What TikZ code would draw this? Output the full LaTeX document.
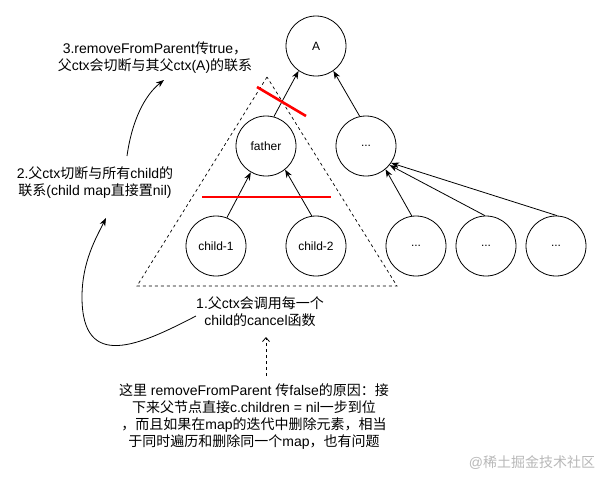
\documentclass[tikz,border=0pt]{standalone}
\usepackage{fontspec}
\setmainfont{Liberation Sans}
\newfontfamily\cjk{Noto Sans CJK SC}
\newcommand\zh[1]{{\cjk #1}}
\usetikzlibrary{arrows.meta}
\begin{document}
\begin{tikzpicture}[x=1pt,y=-1pt,
 circ/.style={circle,draw,line width=0.8pt,minimum size=60pt,inner sep=0pt,font=\fontsize{12}{14}\selectfont},
 arr/.style={line width=0.8pt,-{Stealth[length=8pt,width=6pt,inset=2.5pt]}},
 note/.style={align=center,font=\fontsize{14}{17}\selectfont,inner sep=0pt},
 cut/.style={red,line width=2.6pt},
 tri/.style={dash pattern=on 3pt off 3pt,line width=0.7pt},
 hint/.style={line width=0.8pt,dash pattern=on 3pt off 3pt,-{Straight Barb[length=4pt,width=7pt]}}
]
\useasboundingbox (0,0) rectangle (603,483);
% nodes
\node[circ] (A)  at (316,46)  {A};
\node[circ] (fa) at (266,146) {father};
\node[circ] (d0) at (366,146) {...};
\node[circ] (c1) at (216,246) {child-1};
\node[circ] (c2) at (316,246) {child-2};
\node[circ] (d1) at (416,246) {...};
\node[circ] (d2) at (486,246) {...};
\node[circ] (d3) at (556,246) {...};
% edges
\draw[arr] (fa.75) -- (A.235);
\draw[arr] (d0.102) -- (A.305);
\draw[arr] (c1.69) -- (fa.240);
\draw[arr] (c2.98) -- (fa.309);
\draw[arr] (d1.98) -- (d0.310);
\draw[arr] (d2.92) -- (d0.321);
\draw[arr] (d3.88) -- (d0.326);
% dashed triangle
\draw[tri] (267,77) -- (137,286) -- (397,286) -- cycle;
% red cuts
\draw[cut] (257,87) -- (306,116);
\draw[cut] (202,197) -- (331,197);
% notes
\node[note] (n3) at (155,57.5) {3.removeFromParent\zh{传}true\zh{，}\\\zh{父}ctx\zh{会切断与其父}ctx(A)\zh{的联系}};
\node[note] (n2) at (95,183) {2.\zh{父}ctx\zh{切断与所有}child\zh{的}\\\zh{联系}(child map\zh{直接置}nil)};
\node[note] (n1) at (260,311.5) {1.\zh{父}ctx\zh{会调用每一个}\\child\zh{的}cancel\zh{函数}};
\node[note] (n0) at (254,417) {\zh{这里} removeFromParent \zh{传}false\zh{的原因：接}\\\zh{下来父节点直接}c.children = nil\zh{一步到位}\\\zh{，而且如果在}map\zh{的迭代中删除元素，相当}\\\zh{于同时遍历和删除同一个}map\zh{，也有问题}};
\node[font=\fontsize{14}{17}\selectfont,text=black!28,inner sep=0pt] (wm) at (532,463) {@\zh{稀土掘金技术社区}};
% curved arrows
\coordinate (s1) at (196,316);
\coordinate (e1) at (106,218);
\draw[arr] (s1) .. controls (140,345) and (82,372) .. (82,297) .. controls (82,262) and (96,238) .. (e1);
\coordinate (s2) at (127,156);
\coordinate (e2) at (164,80);
\draw[arr] (s2) .. controls (132,120) and (145,95) .. (e2);
\coordinate (s3) at (266,376);
\coordinate (e3) at (266,337);
\draw[hint] (s3) -- (e3);
\end{tikzpicture}
\end{document}
